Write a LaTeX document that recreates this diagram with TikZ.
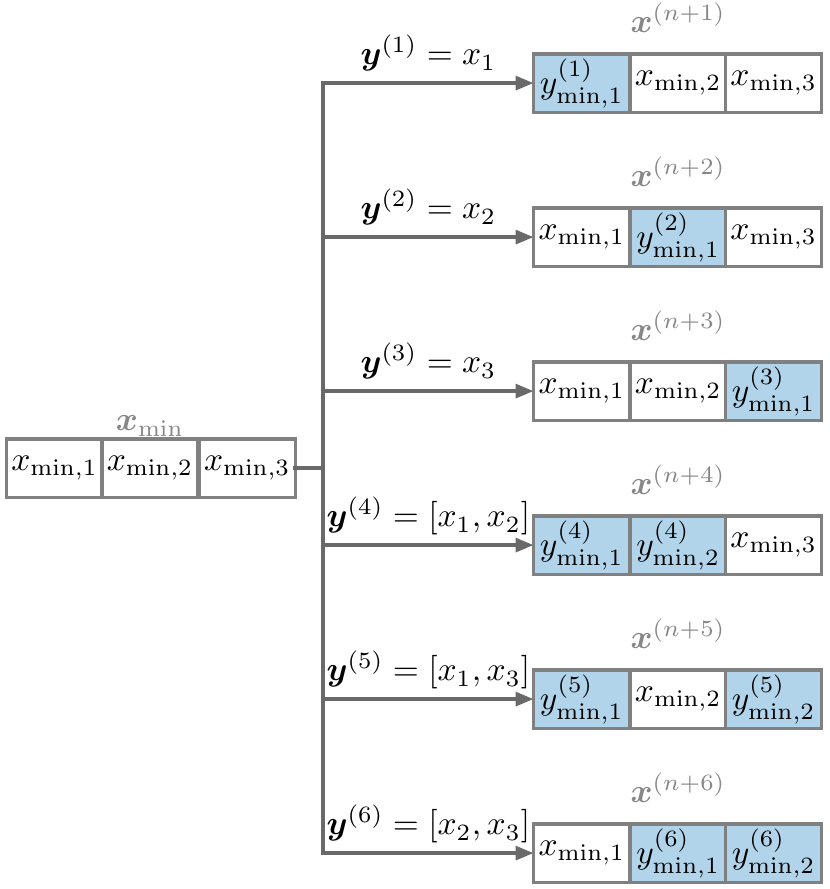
\documentclass[tikz,border=0pt]{standalone}
\usepackage{amsmath,amssymb}
\usetikzlibrary{arrows.meta,positioning}

\definecolor{boxgray}{RGB}{128,128,128}
\definecolor{linegray}{RGB}{105,105,105}
\definecolor{titlegray}{RGB}{135,135,135}
\definecolor{hlblue}{RGB}{177,212,234}

\begin{document}
\begin{tikzpicture}[x=0.9545cm,y=0.9545cm]
\tikzset{
  cell/.style={draw=boxgray,line width=0.95pt,fill=white,minimum width=1.008cm,minimum height=0.609cm,inner sep=0pt,outer sep=0pt},
  hlcell/.style={cell,fill=hlblue},
  flow/.style={-{Triangle[length=5.4pt,width=4pt]},draw=linegray,line width=1.25pt},
  bus/.style={draw=linegray,line width=1.25pt,line cap=rect},
  title/.style={text=titlegray,anchor=base,inner sep=0pt},
  lbl/.style={anchor=base,inner sep=0pt,yshift=1.9mm}
}
\useasboundingbox (0,0) rectangle (9.13,9.779);
% current minimum
\node[cell] (n_m1) at (0.60,4.63) {$x_{\min,1}$};
\node[cell] (n_m2) at (1.65,4.63) {$x_{\min,2}$};
\node[cell] (n_m3) at (2.72,4.63) {$x_{\min,3}$};
\node[title] (n_tm) at (1.65,5.038) {$\boldsymbol{x}_{\min}$};
% new points
\node[hlcell] (n_r1a) at (6.40,8.865) {$y^{(1)}_{\min,1}$};
\node[cell] (n_r1b) at (7.46,8.865) {$x_{\min,2}$};
\node[cell] (n_r1c) at (8.51,8.865) {$x_{\min,3}$};
\node[cell] (n_r2a) at (6.40,7.171) {$x_{\min,1}$};
\node[hlcell] (n_r2b) at (7.46,7.171) {$y^{(2)}_{\min,1}$};
\node[cell] (n_r2c) at (8.51,7.171) {$x_{\min,3}$};
\node[cell] (n_r3a) at (6.40,5.477) {$x_{\min,1}$};
\node[cell] (n_r3b) at (7.46,5.477) {$x_{\min,2}$};
\node[hlcell] (n_r3c) at (8.51,5.477) {$y^{(3)}_{\min,1}$};
\node[hlcell] (n_r4a) at (6.40,3.783) {$y^{(4)}_{\min,1}$};
\node[hlcell] (n_r4b) at (7.46,3.783) {$y^{(4)}_{\min,2}$};
\node[cell] (n_r4c) at (8.51,3.783) {$x_{\min,3}$};
\node[hlcell] (n_r5a) at (6.40,2.089) {$y^{(5)}_{\min,1}$};
\node[cell] (n_r5b) at (7.46,2.089) {$x_{\min,2}$};
\node[hlcell] (n_r5c) at (8.51,2.089) {$y^{(5)}_{\min,2}$};
\node[cell] (n_r6a) at (6.40,0.395) {$x_{\min,1}$};
\node[hlcell] (n_r6b) at (7.46,0.395) {$y^{(6)}_{\min,1}$};
\node[hlcell] (n_r6c) at (8.51,0.395) {$y^{(6)}_{\min,2}$};
% titles
\node[title] (n_t1) at (7.46,9.42) {$\boldsymbol{x}^{(n+1)}$};
\node[title] (n_t2) at (7.46,7.726) {$\boldsymbol{x}^{(n+2)}$};
\node[title] (n_t3) at (7.46,6.032) {$\boldsymbol{x}^{(n+3)}$};
\node[title] (n_t4) at (7.46,4.338) {$\boldsymbol{x}^{(n+4)}$};
\node[title] (n_t5) at (7.46,2.644) {$\boldsymbol{x}^{(n+5)}$};
\node[title] (n_t6) at (7.46,0.950) {$\boldsymbol{x}^{(n+6)}$};
% bus
\coordinate (c_b1) at (3.553,8.865);
\coordinate (c_b2) at (3.553,7.171);
\coordinate (c_b3) at (3.553,5.477);
\coordinate (c_b4) at (3.553,3.783);
\coordinate (c_b5) at (3.553,2.089);
\coordinate (c_b6) at (3.553,0.395);
\coordinate (c_bm) at (3.553,4.63);
\draw[bus] (c_b1) -- (c_b6);
\draw[bus] (n_m3.east) -- (c_bm);
\draw[flow] (c_b1) -- node[lbl] {$\boldsymbol{y}^{(1)} = x_1$} (n_r1a);
\draw[flow] (c_b2) -- node[lbl] {$\boldsymbol{y}^{(2)} = x_2$} (n_r2a);
\draw[flow] (c_b3) -- node[lbl] {$\boldsymbol{y}^{(3)} = x_3$} (n_r3a);
\draw[flow] (c_b4) -- node[lbl] {$\boldsymbol{y}^{(4)} = [x_1, x_2]$} (n_r4a);
\draw[flow] (c_b5) -- node[lbl] {$\boldsymbol{y}^{(5)} = [x_1, x_3]$} (n_r5a);
\draw[flow] (c_b6) -- node[lbl] {$\boldsymbol{y}^{(6)} = [x_2, x_3]$} (n_r6a);
\end{tikzpicture}
\end{document}
